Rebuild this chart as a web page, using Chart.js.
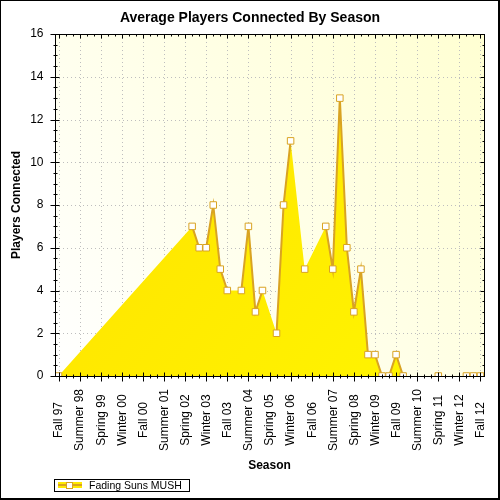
<!DOCTYPE html>
<html><head><meta charset="utf-8">
<script src="https://cdn.jsdelivr.net/npm/chart.js@4.4.1/dist/chart.umd.min.js"></script>
<style>html,body{margin:0;padding:0;background:#fff}canvas{display:block}</style>
</head><body>
<canvas id="c" width="500" height="500"></canvas>
<script>
const chartTitle = 'Average Players Connected By Season';
const xAxisTitle = 'Season';
const yAxisTitle = 'Players Connected';
const seriesName = 'Fading Suns MUSH';

const seasons = [
  'Fall 97',
  'Winter 98','Spring 98','Summer 98','Fall 98',
  'Winter 99','Spring 99','Summer 99','Fall 99',
  'Winter 00','Spring 00','Summer 00','Fall 00',
  'Winter 01','Spring 01','Summer 01','Fall 01',
  'Winter 02','Spring 02','Summer 02','Fall 02',
  'Winter 03','Spring 03','Summer 03','Fall 03',
  'Winter 04','Spring 04','Summer 04','Fall 04',
  'Winter 05','Spring 05','Summer 05','Fall 05',
  'Winter 06','Spring 06','Summer 06','Fall 06',
  'Winter 07','Spring 07','Summer 07','Fall 07',
  'Winter 08','Spring 08','Summer 08','Fall 08',
  'Winter 09','Spring 09','Summer 09','Fall 09',
  'Winter 10','Spring 10','Summer 10','Fall 10',
  'Winter 11','Spring 11','Summer 11','Fall 11',
  'Winter 12','Spring 12','Summer 12','Fall 12'
];

const players = [
  0,
  null,null,null,null,
  null,null,null,null,
  null,null,null,null,
  null,null,null,null,
  null,null,7,6,
  6,8,5,4,
  null,4,7,3,
  4,null,2,8,
  11,null,5,null,
  null,7,5,13,
  6,3,5,1,
  1,0,0,1,
  0,null,null,null,
  null,0,null,null,
  null,0,0,0
];

const yTickValues = [0,2,4,6,8,10,12,14,16];
const xLabelEvery = 3;

const FONT = "'Liberation Sans', Arial, sans-serif";
const LINE_COLOR = '#D9A322';

function areaGradient(c) {
  const chart = c.chart;
  const a = chart.chartArea;
  if (!a) return '#FFEE00';
  const g = chart.ctx.createLinearGradient(a.left, a.top, a.right, a.bottom);
  g.addColorStop(0, '#FFE000');
  g.addColorStop(1, '#FFF600');
  return g;
}

const decor = {
  id: 'decor',
  beforeDraw(chart) {
    const ctx = chart.ctx;
    ctx.save();
    ctx.fillStyle = '#000';
    ctx.fillRect(0, 0, 500, 500);
    ctx.fillStyle = '#fff';
    ctx.fillRect(1, 1, 497, 497);
    ctx.restore();
  },
  beforeDatasetsDraw(chart) {
    const ctx = chart.ctx, a = chart.chartArea;
    const xs = chart.scales.x, ys = chart.scales.y;
    ctx.save();
    const g = ctx.createLinearGradient(a.left, a.bottom, a.right, a.top);
    g.addColorStop(0, '#FFFFFF');
    g.addColorStop(1, '#FFFFD2');
    ctx.fillStyle = g;
    ctx.fillRect(a.left, a.top, a.right - a.left, a.bottom - a.top);
    ctx.strokeStyle = '#BEBEBE';
    ctx.lineWidth = 1;
    ctx.setLineDash([1, 3]);
    for (let i = 0; i < seasons.length; i += xLabelEvery) {
      const px = Math.round(xs.getPixelForValue(i)) + 0.5;
      ctx.beginPath(); ctx.moveTo(px, a.top); ctx.lineTo(px, a.bottom); ctx.stroke();
    }
    yTickValues.forEach(v => {
      if (v === 0 || v === 16) return;
      const py = Math.round(ys.getPixelForValue(v)) + 0.5;
      ctx.beginPath(); ctx.moveTo(a.left, py); ctx.lineTo(a.right, py); ctx.stroke();
    });
    ctx.restore();
  },
  afterDatasetsDraw(chart) {
    const ctx = chart.ctx, a = chart.chartArea;
    const xs = chart.scales.x, ys = chart.scales.y;
    const L = Math.floor(a.left) + 0.5, R = Math.floor(a.right) + 0.5;
    const T = Math.floor(a.top) + 0.5, B = Math.floor(a.bottom) + 0.5;
    ctx.save();
    ctx.strokeStyle = '#000';
    ctx.lineWidth = 1;
    ctx.strokeRect(L, T, R - L, B - T);
    ctx.beginPath();
    // x ticks
    for (let i = 0; i < seasons.length; i++) {
      const px = Math.round(xs.getPixelForValue(i)) + 0.5;
      const major = i % xLabelEvery === 0;
      ctx.moveTo(px, B - (major ? 4 : 2)); ctx.lineTo(px, B + (major ? 5 : 2));
      ctx.moveTo(px, T); ctx.lineTo(px, T + (major ? 4 : 2));
    }
    // y ticks every 0.5
    for (let k = 0; k <= 32; k++) {
      const v = k / 2;
      const py = Math.round(ys.getPixelForValue(v)) + 0.5;
      const major = yTickValues.includes(v);
      ctx.moveTo(L - (major ? 5 : 2), py); ctx.lineTo(L + (major ? 4 : 2), py);
      ctx.moveTo(R, py); ctx.lineTo(R - (major ? 4 : 2), py);
    }
    ctx.stroke();

    // y tick labels
    ctx.fillStyle = '#000';
    ctx.font = '12px ' + FONT;
    ctx.textAlign = 'right';
    ctx.textBaseline = 'middle';
    yTickValues.forEach(v => {
      ctx.fillText(String(v), L - 12, ys.getPixelForValue(v));
    });
    // x tick labels
    ctx.textAlign = 'center';
    for (let i = 0; i < seasons.length; i += xLabelEvery) {
      const px = xs.getPixelForValue(i);
      ctx.save();
      ctx.translate(px + 0.5, 420);
      ctx.rotate(-Math.PI / 2);
      ctx.fillText(seasons[i], 0, 0);
      ctx.restore();
    }
    // titles
    ctx.font = 'bold 14px ' + FONT;
    ctx.textBaseline = 'alphabetic';
    ctx.fillText(chartTitle, 250, 22);
    ctx.font = 'bold 12px ' + FONT;
    ctx.fillText(xAxisTitle, (a.left + a.right) / 2, 469);
    ctx.save();
    ctx.translate(20, (a.top + a.bottom) / 2);
    ctx.rotate(-Math.PI / 2);
    ctx.fillText(yAxisTitle, 0, 0);
    ctx.restore();
    ctx.restore();
  },
  afterDraw(chart) {
    const ctx = chart.ctx;
    ctx.save();
    // legend box
    ctx.fillStyle = '#fff';
    ctx.fillRect(54, 479, 135, 12);
    ctx.strokeStyle = '#000';
    ctx.lineWidth = 1;
    ctx.strokeRect(54.5, 479.5, 135, 12);
    ctx.fillStyle = '#FFEA00';
    ctx.fillRect(58, 482, 24, 6);
    ctx.strokeStyle = LINE_COLOR;
    ctx.lineWidth = 2;
    ctx.beginPath(); ctx.moveTo(58, 485); ctx.lineTo(82, 485); ctx.stroke();
    ctx.fillStyle = '#fff';
    ctx.lineWidth = 1;
    ctx.fillRect(66.5, 482.5, 6, 6);
    ctx.strokeRect(66.5, 482.5, 6, 6);
    ctx.fillStyle = '#000';
    ctx.font = '10.5px ' + FONT;
    ctx.textAlign = 'left';
    ctx.textBaseline = 'alphabetic';
    ctx.fillText(seriesName, 89, 489);
    ctx.restore();
  }
};

new Chart(document.getElementById('c'), {
  type: 'line',
  data: {
    labels: seasons,
    datasets: [
      {
        label: seriesName + ' (area)',
        data: players,
        spanGaps: true,
        fill: 'origin',
        backgroundColor: areaGradient,
        borderWidth: 0,
        borderColor: 'rgba(0,0,0,0)',
        pointRadius: 0,
        tension: 0,
        order: 2
      },
      {
        label: seriesName,
        data: players,
        spanGaps: false,
        fill: false,
        borderColor: LINE_COLOR,
        borderWidth: 2,
        pointStyle: 'rect',
        pointRadius: 4.6,
        pointBackgroundColor: '#fff',
        pointBorderColor: LINE_COLOR,
        pointBorderWidth: 1,
        tension: 0,
        clip: 0,
        order: 1
      }
    ]
  },
  options: {
    responsive: false,
    animation: false,
    devicePixelRatio: 1,
    layout: { padding: { left: 55, top: 34, right: 16, bottom: 124 } },
    scales: {
      x: { type: 'category', display: false, offset: true },
      y: { type: 'linear', display: false, min: 0, max: 16 }
    },
    plugins: {
      legend: { display: false },
      title: { display: false },
      tooltip: { enabled: false }
    }
  },
  plugins: [decor]
});
</script>
</body></html>
